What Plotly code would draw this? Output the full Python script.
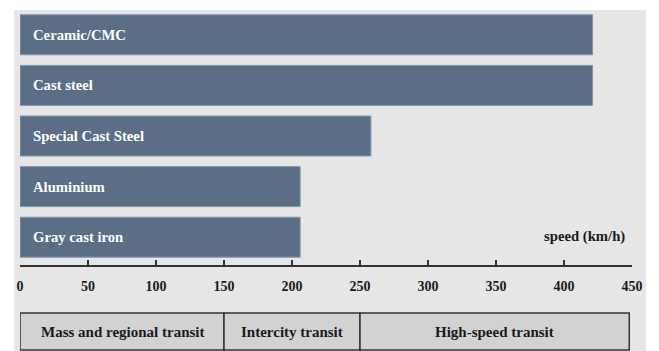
import plotly.graph_objects as go

# Brake disc materials and their maximum operating speed (km/h)
materials = ["Ceramic/CMC", "Cast steel", "Special Cast Steel", "Aluminium", "Gray cast iron"]
max_speed = [421, 421, 258, 206, 206]

# Transit classes along the speed axis
segment_names = ["Mass and regional transit", "Intercity transit", "High-speed transit"]
segment_start = [0, 150, 250]
segment_end = [150, 250, 448]

tick_values = [0, 50, 100, 150, 200, 250, 300, 350, 400, 450]

W, H = 659, 351
ML, MR = 20, W - 632
FONT = "Liberation Serif"
BAR = "#5a6e85"
PANEL = "#e5e6e5"


def px_x(px):
    """Pixel column -> paper x (paper spans the plotting area)."""
    return (px - ML) / (W - ML - MR)


def py(px):
    """Pixel row from the top -> paper y."""
    return 1 - px / H


fig = go.Figure()
fig.add_trace(go.Bar(
    y=materials,
    x=max_speed,
    orientation="h",
    marker=dict(color=BAR, line=dict(color="#8797aa", width=1)),
    hoverinfo="x+y",
    showlegend=False,
))

annotations = []
for m in materials:
    annotations.append(dict(
        x=0, y=m, xref="x", yref="y", text="<b>%s</b>" % m,
        xanchor="left", yanchor="middle", xshift=11, showarrow=False,
        font=dict(family=FONT, size=14.7, color="white"),
    ))

# Grey panel behind the chart
shapes = [dict(type="rect", xref="paper", yref="paper", x0=px_x(14), x1=px_x(646),
               y0=0, y1=py(10), fillcolor=PANEL, line=dict(width=0), layer="below")]

for name, a, b in zip(segment_names, segment_start, segment_end):
    shapes.append(dict(type="rect", xref="x", yref="paper", x0=a, x1=b,
                       y0=py(350), y1=py(313), fillcolor="#d2d2d2",
                       line=dict(color="#333333", width=1.5), layer="above"))
    annotations.append(dict(
        x=(a + b) / 2, y=py(331.5), xref="x", yref="paper", text="<b>%s</b>" % name,
        xanchor="center", yanchor="middle", showarrow=False,
        font=dict(family=FONT, size=15, color="#1a1a1a"),
    ))

annotations.append(dict(
    x=446, y=py(236), xref="x", yref="paper", text="<b>speed (km/h)</b>",
    xanchor="right", yanchor="middle", showarrow=False,
    font=dict(family=FONT, size=14.7, color="#1a1a1a"),
))

fig.update_layout(
    width=W, height=H,
    margin=dict(l=ML, r=MR, t=0, b=0),
    paper_bgcolor="white",
    plot_bgcolor="rgba(0,0,0,0)",
    bargap=0.21,
    shapes=shapes,
    annotations=annotations,
    xaxis=dict(
        range=[0, 450], tickvals=tick_values,
        ticktext=["<b>%d</b>" % v for v in tick_values],
        anchor="free", position=py(266),
        showline=True, linecolor="#333333", linewidth=1.5,
        ticks="inside", ticklen=5, tickwidth=1.5, tickcolor="#333333",
        ticklabelstandoff=7,
        showgrid=False, zeroline=False,
        tickfont=dict(family=FONT, size=14, color="#1a1a1a"),
    ),
    yaxis=dict(
        domain=[py(262.5), py(9.5)],
        categoryorder="array", categoryarray=materials[::-1],
        showticklabels=False, showgrid=False, zeroline=False, showline=False,
    ),
)

fig.write_html("out.html")
